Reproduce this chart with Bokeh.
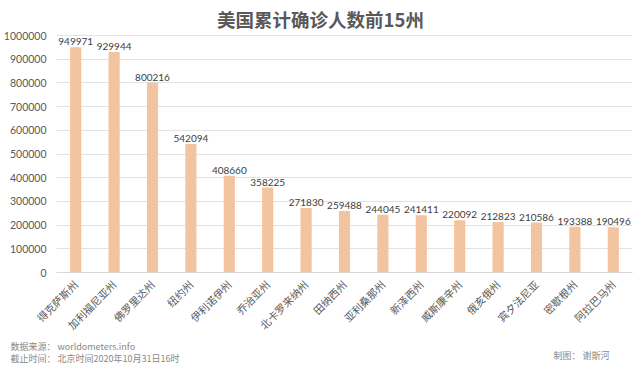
from math import pi
from bokeh.plotting import figure
from bokeh.layouts import column
from bokeh.models import (ColumnDataSource, FixedTicker, NumeralTickFormatter, Label,
                          FactorRange, Range1d)
from bokeh.core.properties import value
from bokeh.embed import file_html
from bokeh.resources import INLINE

title_text = "美国累计确诊人数前15州"
states = ["得克萨斯州", "加利福尼亚州", "佛罗里达州", "纽约州", "伊利诺伊州", "乔治亚州",
          "北卡罗来纳州", "田纳西州", "亚利桑那州", "新泽西州", "威斯康辛州", "俄亥俄州",
          "宾夕法尼亚", "密歇根州", "阿拉巴马州"]
cases = [949971, 929944, 800216, 542094, 408660, 358225, 271830, 259488, 244045,
         241411, 220092, 212823, 210586, 193388, 190496]
y_ticks = list(range(0, 1000001, 100000))
source_note = "数据来源： worldometers.info"
time_note = "截止时间： 北京时间2020年10月31日16时"
author_note = "制图： 谢斯河"

CJK = "Noto Sans CJK SC"
NUM = "Lato"
W = 640
H_MAIN, H_FOOT = 340, 31
FL, FR, FB = 55, 632, 272     # frame left / right / bottom (canvas px)
Y_MAX_PX = 35                 # pixel row of the 1,000,000 gridline
y_max = max(y_ticks)
y_top = y_max * FB / (FB - Y_MAX_PX)   # frame reaches the top of the canvas

src = ColumnDataSource(dict(state=states, cases=cases, label=[str(v) for v in cases]))

p = figure(width=W, height=H_MAIN, x_range=FactorRange(factors=states, range_padding=0),
           y_range=Range1d(0, y_top), output_backend="svg", toolbar_location=None,
           min_border_left=FL, min_border_right=W - FR, min_border_top=0,
           min_border_bottom=H_MAIN - FB)
p.outline_line_color = None
p.background_fill_color = "white"
p.border_fill_color = "white"

p.vbar(x="state", top="cases", width=0.29, source=src, fill_color="#F2C4A0", line_color=None)
p.text(x="state", y="cases", text="label", source=src, text_align="center",
       text_baseline="bottom", y_offset=-2, text_font=value(NUM), text_font_size="10px",
       text_color="#404040")

p.yaxis.ticker = FixedTicker(ticks=y_ticks)
p.yaxis.formatter = NumeralTickFormatter(format="0")
p.yaxis.axis_line_color = None
p.yaxis.major_tick_line_color = None
p.yaxis.minor_tick_line_color = None
p.yaxis.major_label_text_font = NUM
p.yaxis.major_label_text_font_size = "10.5px"
p.yaxis.major_label_text_color = "#595959"
p.yaxis.major_label_standoff = 4

p.xaxis.major_label_orientation = pi / 4
p.xaxis.axis_line_color = "#D9D9D9"
p.xaxis.major_tick_line_color = None
p.xaxis.minor_tick_line_color = None
p.xaxis.major_label_text_font = CJK
p.xaxis.major_label_text_font_size = "10.5px"
p.xaxis.major_label_text_color = "#595959"
p.xaxis.major_label_standoff = 4

p.xgrid.grid_line_color = None
p.ygrid.grid_line_color = "#E3E3E3"

# title: inside the (extended) frame, screen units are frame-relative (origin bottom-left)
p.add_layout(Label(x=319 - FL, y=FB - 18, x_units="screen", y_units="screen",
                   text=title_text, text_align="center", text_baseline="middle",
                   text_font=CJK, text_font_size="18.5px", text_font_style="bold",
                   text_color="#595959"))

# footer strip with the notes (y runs downward in canvas pixels)
f = figure(width=W, height=H_FOOT, x_range=Range1d(0, W),
           y_range=Range1d(H_MAIN + H_FOOT, H_MAIN), output_backend="svg",
           toolbar_location=None, min_border=0, min_border_left=0, min_border_right=0,
           min_border_top=0, min_border_bottom=0, x_axis_type=None, y_axis_type=None)
f.grid.visible = False
f.outline_line_color = None
f.background_fill_color = "white"
f.border_fill_color = "white"

def note(px, py, text):
    return Label(x=px, y=py, text=text, text_align="left", text_baseline="middle",
                 text_font=CJK, text_font_size="9px", text_color="#888888")

f.add_layout(note(10, 346, source_note))
f.add_layout(note(10, 358, time_note))
f.add_layout(note(553, 355, author_note))

layout = column(p, column(f, spacing=0), spacing=0)
open("out.html", "w").write(file_html(layout, INLINE))
